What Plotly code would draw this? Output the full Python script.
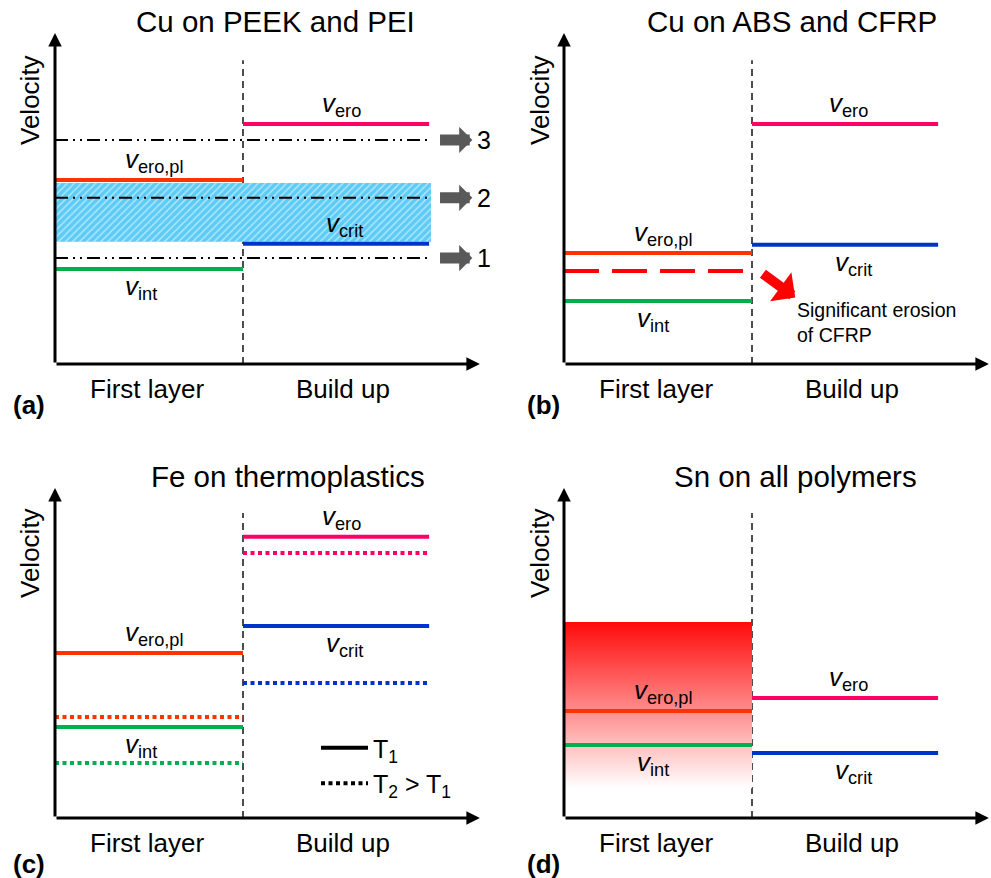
import plotly.graph_objects as go

W, H = 991, 878
FONT = "Liberation Sans, Arial, sans-serif"

# ---------------- data ----------------
stages = ["First layer", "Build up"]
titles = ["Cu on PEEK and PEI", "Cu on ABS and CFRP", "Fe on thermoplastics", "Sn on all polymers"]
tags = ["(a)", "(b)", "(c)", "(d)"]

# Panel (a) Cu on PEEK and PEI
a_vero = 7.25
a_vcrit = 3.63
a_veropl = 5.56
a_vint = 2.87
a_regimes = [3.20, 5.02, 6.77]
a_regime_labels = ["1", "2", "3"]
a_window = [3.69, 5.47]

# Panel (b) Cu on ABS and CFRP
b_vero = 7.25
b_vcrit = 3.60
b_veropl = 3.35
b_veropl_cfrp = 2.81
b_vint = 1.90
b_note = "Significant erosion<br>of CFRP"

# Panel (c) Fe on thermoplastics: [T1, T2]
c_vero = [8.52, 8.03]
c_vcrit = [5.82, 4.09]
c_veropl = [5.00, 3.06]
c_vint = [2.76, 1.67]
temps = ["T<sub>1</sub>", "T<sub>2</sub> &gt; T<sub>1</sub>"]

# Panel (d) Sn on all polymers
d_vero = 3.64
d_vcrit = 1.97
d_veropl = 3.24
d_vint = 2.21
d_zone = [0.9, 5.94]

# ---------------- style ----------------
COL = {"vero": "#ff0066", "veropl": "#ff3300", "vcrit": "#0033cc", "vint": "#00b050"}
SUB = {"vero": "ero", "veropl": "ero,pl", "vcrit": "crit", "vint": "int"}
FIRST = [0, 1]
BUILD = [1, 1.99]
DDOT = "13px,5px,2px,5px,2px,5px"

def px_x(p):
    return p / W

def px_y(p):
    return 1 - p / H

XR = {1: [-0.02, 2.30], 2: [-0.02, 2.265], 3: [-0.02, 2.30], 4: [-0.02, 2.265]}
X0PX = {1: 55, 2: 564, 3: 55, 4: 564}
Y0PX = {1: 364, 2: 364, 3: 818, 4: 818}
YSC = {1: 33.1, 2: 33.1, 3: 33.0, 4: 33.0}
XSC = 188.0
YR = [-0.1, 10.1]

fig = go.Figure()
annotations = []

def ax_names(i):
    return ("x" if i == 1 else f"x{i}", "y" if i == 1 else f"y{i}")

def hline(i, span, y, color, width=4, dash="solid"):
    xa, ya = ax_names(i)
    fig.add_trace(go.Scatter(x=span, y=[y, y], mode="lines", xaxis=xa, yaxis=ya,
                             line=dict(color=color, width=width, dash=dash),
                             showlegend=False, hoverinfo="skip"))

def vlabel(i, x, y, key, pos):
    xa, ya = ax_names(i)
    annotations.append(dict(
        x=x, y=y, xref=xa, yref=ya, showarrow=False, xanchor="left",
        yanchor="bottom" if pos == "above" else "top",
        yshift=1 if pos == "above" else 0,
        text=f"<i>v</i><sub>{SUB[key]}</sub>",
        font=dict(family=FONT, size=26, color="black")))

def paper_text(x, y, text, size, angle=0):
    annotations.append(dict(x=px_x(x), y=px_y(y), xref="paper", yref="paper", showarrow=False,
                            xanchor="center", yanchor="middle", textangle=angle, text=text,
                            font=dict(family=FONT, size=size, color="black")))

title_pos = {1: (275, 22), 2: (792, 22), 3: (288, 477), 4: (795, 477)}
vel_pos = {1: (30, 100), 2: (540, 100), 3: (30, 553), 4: (540, 553)}
tag_pos = {1: (29, 405), 2: (543, 405), 3: (29, 864), 4: (543, 864)}
sep_top = {1: 9.18, 2: 9.18, 3: 9.24, 4: 9.24}

layout_axes = {}
for i in range(1, 5):
    xa, ya = ax_names(i)
    x0 = X0PX[i] + XR[i][0] * XSC
    x1 = X0PX[i] + XR[i][1] * XSC
    y0 = Y0PX[i] - YR[0] * YSC[i]
    y1 = Y0PX[i] - YR[1] * YSC[i]
    kx = "xaxis" if i == 1 else f"xaxis{i}"
    ky = "yaxis" if i == 1 else f"yaxis{i}"
    layout_axes[kx] = dict(domain=[px_x(x0), px_x(x1)], range=XR[i], anchor=ya,
                           visible=False, fixedrange=True)
    layout_axes[ky] = dict(domain=[px_y(y0), px_y(y1)], range=YR, anchor=xa,
                           visible=False, fixedrange=True)
    # axis arrows
    annotations.append(dict(x=2.26, y=0, ax=0, ay=0, xref=xa, yref=ya, axref=xa, ayref=ya,
                            showarrow=True, arrowhead=2, arrowsize=0.9, arrowwidth=3,
                            arrowcolor="black", text=""))
    annotations.append(dict(x=0, y=10.0, ax=0, ay=0, xref=xa, yref=ya, axref=xa, ayref=ya,
                            showarrow=True, arrowhead=2, arrowsize=0.9, arrowwidth=3,
                            arrowcolor="black", text=""))
    # separator between stages
    fig.add_trace(go.Scatter(x=[1, 1], y=[0, sep_top[i]], mode="lines", xaxis=xa, yaxis=ya,
                             line=dict(color="#4d4d4d", width=2, dash="7px,5px"),
                             showlegend=False, hoverinfo="skip"))
    # stage labels
    for sx, s in zip([0.49, 1.53], stages):
        annotations.append(dict(x=sx, y=0, xref=xa, yref=ya, showarrow=False,
                                yanchor="top", yshift=-8, text=s,
                                font=dict(family=FONT, size=26, color="black")))
    paper_text(*title_pos[i], titles[i - 1], 29.5)
    paper_text(*vel_pos[i], "Velocity", 26, angle=-90)
    paper_text(*tag_pos[i], f"<b>{tags[i - 1]}</b>", 26)

# ---------------- panel (a) ----------------
fig.add_trace(go.Scatter(x=[0, 2.0, 2.0, 0, 0],
                         y=[a_window[0], a_window[0], a_window[1], a_window[1], a_window[0]],
                         mode="none", fill="toself", fillcolor="#5ccbf5",
                         fillpattern=dict(shape="/", fgcolor="white", bgcolor="#5ccbf5",
                                          size=5, solidity=0.3),
                         xaxis="x", yaxis="y", showlegend=False, hoverinfo="skip"))
for lv, lab in zip(a_regimes, a_regime_labels):
    hline(1, [0, 1.98], lv, "black", width=2, dash=DDOT)
    annotations.append(dict(x=2.22, y=lv, ax=2.04, ay=lv, xref="x", yref="y", axref="x", ayref="y",
                            showarrow=True, arrowhead=1, arrowsize=0.4, arrowwidth=11,
                            arrowcolor="#595959", text=""))
    annotations.append(dict(x=2.22, y=lv, xref="x", yref="y", showarrow=False, xanchor="left",
                            xshift=3, text=lab, font=dict(family=FONT, size=25, color="black")))
hline(1, BUILD, a_vero, COL["vero"])
hline(1, FIRST, a_veropl, COL["veropl"])
hline(1, BUILD, a_vcrit, COL["vcrit"])
hline(1, FIRST, a_vint, COL["vint"])
vlabel(1, 1.41, a_vero, "vero", "above")
vlabel(1, 0.36, a_veropl, "veropl", "above")
vlabel(1, 1.43, a_vcrit, "vcrit", "above")
vlabel(1, 0.36, a_vint, "vint", "below")

# ---------------- panel (b) ----------------
hline(2, BUILD, b_vero, COL["vero"])
hline(2, FIRST, b_veropl, COL["veropl"])
hline(2, [0, 0.97], b_veropl_cfrp, "#ff0000", width=4, dash="35px,13px")
hline(2, BUILD, b_vcrit, COL["vcrit"])
hline(2, FIRST, b_vint, COL["vint"])
vlabel(2, 0.36, b_veropl, "veropl", "above")
vlabel(2, 0.38, b_vint, "vint", "below")
vlabel(2, 1.40, b_vero, "vero", "above")
vlabel(2, 1.43, b_vcrit, "vcrit", "below")
annotations.append(dict(x=1.23, y=b_veropl_cfrp - 0.8, ax=1.05, ay=b_veropl_cfrp - 0.05,
                        xref="x2", yref="y2", axref="x2", ayref="y2", showarrow=True,
                        arrowhead=1, arrowsize=0.6, arrowwidth=10, arrowcolor="#ff0000", text=""))
annotations.append(dict(x=1.23, y=b_veropl_cfrp - 0.8, xref="x2", yref="y2", showarrow=False,
                        xanchor="left", yanchor="top", align="left", yshift=0,
                        text=b_note, font=dict(family=FONT, size=19.5, color="black")))

# ---------------- panel (c) ----------------
dash_t = ["solid", "4px,3.5px"]
for k in range(2):
    hline(3, BUILD, c_vero[k], COL["vero"], dash=dash_t[k])
    hline(3, BUILD, c_vcrit[k], COL["vcrit"], dash=dash_t[k])
    hline(3, FIRST, c_veropl[k], COL["veropl"], dash=dash_t[k])
    hline(3, FIRST, c_vint[k], COL["vint"], dash=dash_t[k])
vlabel(3, 1.41, c_vero[0], "vero", "above")
vlabel(3, 1.43, c_vcrit[0], "vcrit", "below")
vlabel(3, 0.36, c_veropl[0], "veropl", "above")
vlabel(3, 0.36, c_vint[0], "vint", "below")
for k in range(2):
    fig.add_trace(go.Scatter(x=[None], y=[None], mode="lines", xaxis="x3", yaxis="y3",
                             name=temps[k], line=dict(color="black", width=4, dash=dash_t[k]),
                             showlegend=True))

# ---------------- panel (d) ----------------
fig.add_trace(go.Scatter(x=[0, 1, 1, 0, 0], y=[d_zone[0], d_zone[0], d_zone[1], d_zone[1], d_zone[0]],
                         mode="none", fill="toself",
                         fillgradient=dict(type="vertical",
                                           colorscale=[[0, "rgb(255,255,255)"], [1, "rgb(255,10,10)"]]),
                         xaxis="x4", yaxis="y4", showlegend=False, hoverinfo="skip"))
hline(4, BUILD, d_vero, COL["vero"])
hline(4, FIRST, d_veropl, COL["veropl"])
hline(4, FIRST, d_vint, COL["vint"])
hline(4, BUILD, d_vcrit, COL["vcrit"])
vlabel(4, 1.40, d_vero, "vero", "above")
vlabel(4, 0.36, d_veropl, "veropl", "above")
vlabel(4, 0.38, d_vint, "vint", "below")
vlabel(4, 1.43, d_vcrit, "vcrit", "below")

fig.update_layout(
    width=W, height=H, margin=dict(l=0, r=0, t=0, b=0),
    paper_bgcolor="white", plot_bgcolor="rgba(0,0,0,0)",
    font=dict(family=FONT, color="black"),
    annotations=annotations,
    showlegend=True,
    legend=dict(x=px_x(316), y=px_y(725), xanchor="left", yanchor="top",
                bgcolor="rgba(0,0,0,0)", font=dict(family=FONT, size=25, color="black"),
                tracegroupgap=0, itemwidth=47),
    **layout_axes,
)

fig.write_html("out.html")
